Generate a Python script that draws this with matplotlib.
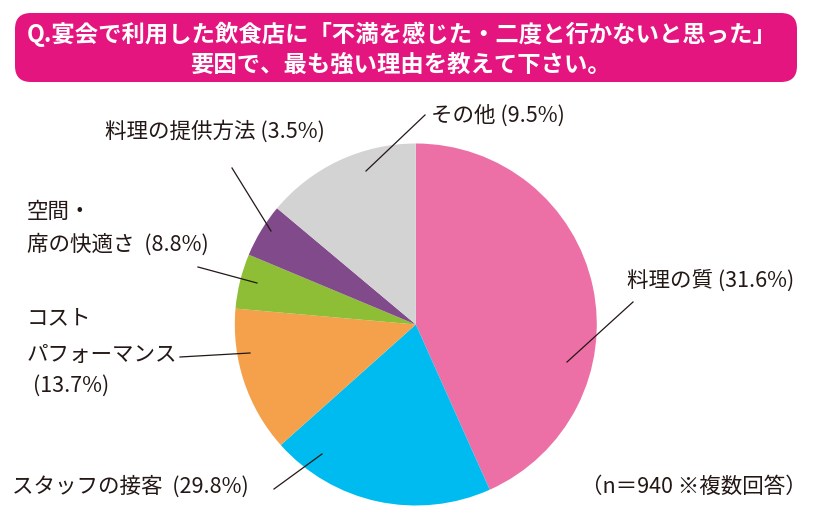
import matplotlib
matplotlib.use("Agg")
import matplotlib.pyplot as plt
from matplotlib.patches import FancyBboxPatch

plt.rcParams['font.family'] = ['Noto Sans CJK JP', 'DejaVu Sans']

# data
categories = ["料理の質", "スタッフの接客", "コストパフォーマンス", "空間・席の快適さ", "料理の提供方法", "その他"]
label_pct = [31.6, 29.8, 13.7, 8.8, 3.5, 9.5]
# share of the circle each slice takes in the picture (%)
slice_share = [43.3, 20.1, 13.0, 4.9, 4.8, 13.9]
colors = ["#ec6fa5", "#00bbef", "#f5a14b", "#8dbe35", "#814a8b", "#d3d3d3"]

title_lines = ["Q.宴会で利用した飲食店に「不満を感じた・二度と行かないと思った」",
               "要因で、最も強い理由を教えて下さい。"]
note = "（n＝940 ※複数回答）"

W, H = 820, 517
fig = plt.figure(figsize=(W / 100, H / 100), dpi=100)

# pie
cx, cy, r = 415.8, 324.5, 181
pax = fig.add_axes([(cx - r) / W, (H - cy - r) / H, 2 * r / W, 2 * r / H])
pax.pie(slice_share, colors=colors, startangle=90, counterclock=False,
        wedgeprops=dict(linewidth=0))
pax.set_xlim(-1, 1)
pax.set_ylim(-1, 1)
pax.set_aspect('auto')
pax.axis('off')

# overlay in pixel coords
ax = fig.add_axes([0, 0, 1, 1])
ax.set_xlim(0, W)
ax.set_ylim(H, 0)
ax.axis('off')

box = FancyBboxPatch((15, 13), 782, 69, boxstyle="round,pad=0,rounding_size=16",
                     facecolor="#e4157f", edgecolor="none")
ax.add_patch(box)
ax.text(402, 34, title_lines[0], color="white", fontsize=16.8, fontweight="bold",
        ha="center", va="center")
ax.text(400, 65, title_lines[1], color="white", fontsize=16.8, fontweight="bold",
        ha="center", va="center")

txt = "#231815"
fs = 15.5
labels = [
    (f"{categories[0]} ({label_pct[0]}%)", 627, 281),
    (f"{categories[1]}  ({label_pct[1]}%)", 12, 487),
    ("コスト", 27, 318),
    ("パフォーマンス", 27, 355),
    (f"({label_pct[2]}%)", 33, 386),
    ("空間・", 27, 212),
    (f"席の快適さ  ({label_pct[3]}%)", 27, 245),
    (f"{categories[4]} ({label_pct[4]}%)", 105, 132),
    (f"{categories[5]} ({label_pct[5]}%)", 431, 116),
    (note, 581, 487),
]
for s, x, y in labels:
    ax.text(x, y, s, fontsize=fs, color=txt, ha="left", va="center")

leaders = [
    ((567, 362), (633, 302)),
    ((322, 454), (274, 489)),
    ((250, 353), (180, 357)),
    ((257, 283), (198, 267)),
    ((271, 231), (232, 168)),
    ((366, 171), (425, 115)),
]
for (x0, y0), (x1, y1) in leaders:
    ax.plot([x0, x1], [y0, y1], color=txt, lw=0.9)

fig.savefig("out.png", dpi=100)
